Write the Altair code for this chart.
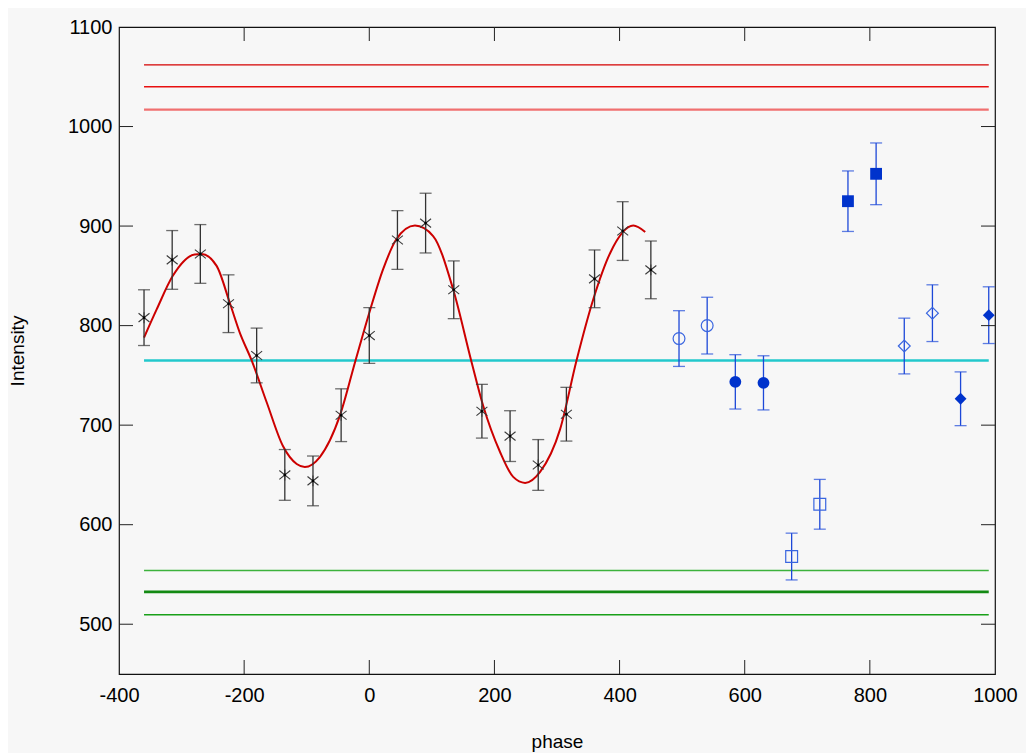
import altair as alt
import pandas as pd

# ---------------- data ----------------
phase_black = [-360, -315, -270, -225, -180, -135, -90, -45, 0, 45, 90, 135,
               180, 225, 270, 315, 360, 405, 450]
intensity_black = [808, 866, 872, 822, 770, 650, 644, 710, 790, 886, 903, 836,
                   714, 689, 660, 711, 847, 895, 856]
error_black = [28, 29.5, 29.5, 29, 27.5, 25.5, 25, 26.5, 28, 29.5, 30, 29,
               27, 25.5, 25.5, 27, 29, 29.5, 29]

phase_blue = [495, 540, 585, 630, 675, 720, 765, 810, 855, 900, 945, 990]
intensity_blue = [787, 800, 743.5, 742.5, 568, 620.5, 925, 952.5, 779.5, 812.5, 726.5, 810.5]
error_blue = [28, 28.5, 27.3, 27.2, 23.5, 25, 30.4, 31, 28, 28.5, 27, 28.5]
marker_blue = ["circle", "circle", "circle", "circle", "square", "square",
               "square", "square", "diamond", "diamond", "diamond", "diamond"]
filled_blue = [False, False, True, True, False, False, True, True, False, False, True, True]

fit_phase = [-360, -340, -314, -279, -268, -244, -223, -207, -188, -164, -138, -116,
             -103, -79, -47, -22, 1, 22, 43, 73, 102, 134, 163, 182, 209, 230, 249,
             273, 305, 331, 358, 385, 422, 441]
fit_intensity = [788, 816, 850, 871.5, 872, 860, 823, 793, 765, 723, 679, 661,
                 658, 668, 709.5, 765, 815, 856.5, 886.5, 900.5, 890, 836.5, 764.5,
                 719.5, 673, 648, 642, 653, 696, 764.5, 826.5, 873, 900.5, 894]

level_values = [1062, 1040, 1017, 765, 554, 532.5, 509.5]
level_start = -360
level_end = 990

x_ticks = [-400, -200, 0, 200, 400, 600, 800, 1000]
y_ticks = [500, 600, 700, 800, 900, 1000, 1100]
x_inner_ticks = [-200, 0, 200, 400, 600, 800]
y_inner_ticks = [500, 600, 700, 800, 900, 1000]

# ---------------- styles ----------------
level_colors = ["#d40000", "#e81010", "#f07070", "#22c8cc", "#3cb23c", "#138a13", "#19a019"]
level_widths = [1.2, 1.5, 2.2, 2.5, 1.5, 2.6, 1.5]

W, H = 876, 647
FONT = "Liberation Sans"

xscale = alt.Scale(domain=[-400, 1000], nice=False, zero=False)
yscale = alt.Scale(domain=[450, 1100], nice=False, zero=False)

xaxis = alt.Axis(values=x_ticks, ticks=False, domain=False, grid=False,
                 labelExpr="datum.value + ''",
                 labelFont=FONT, labelFontSize=20, labelColor="#000",
                 labelPadding=11, labelFlush=False, labelOverlap=False,
                 title="phase", titleFont=FONT, titleFontSize=19,
                 titleFontWeight="normal", titleColor="#000",
                 titleY=73, titleBaseline="alphabetic")
yaxis = alt.Axis(values=y_ticks, ticks=False, domain=False, grid=False,
                 labelExpr="datum.value + ''",
                 labelFont=FONT, labelFontSize=20, labelColor="#000",
                 labelPadding=7, labelFlush=False, labelOverlap=False,
                 title="Intensity", titleFont=FONT, titleFontSize=19,
                 titleFontWeight="normal", titleColor="#000",
                 titleX=-102, titleBaseline="middle", titleAngle=-90)

black = pd.DataFrame({"phase": phase_black, "val": intensity_black, "err": error_black})
black["lo"] = black["val"] - black["err"]
black["hi"] = black["val"] + black["err"]

blue = pd.DataFrame({"phase": phase_blue, "val": intensity_blue, "err": error_blue,
                     "marker": marker_blue, "filled": filled_blue})
blue["lo"] = blue["val"] - blue["err"]
blue["hi"] = blue["val"] + blue["err"]

fit = pd.DataFrame({"phase": fit_phase, "val": fit_intensity})

levels = pd.DataFrame({"level": level_values, "color": level_colors, "w": level_widths,
                       "x0": level_start, "x1": level_end})


def X(f):
    return alt.X(f, type="quantitative", scale=xscale, axis=xaxis)


def Y(f):
    return alt.Y(f, type="quantitative", scale=yscale, axis=yaxis)


level_layer = alt.Chart(levels).mark_rule().encode(
    x=X("x0"), x2="x1:Q", y=Y("level"),
    color=alt.Color("color:N", scale=None),
    strokeWidth=alt.StrokeWidth("w:Q", scale=None),
)

fit_layer = alt.Chart(fit).mark_line(color="#cc0000", strokeWidth=2, interpolate="monotone").encode(
    x=X("phase"), y=Y("val"))

black_bar = alt.Chart(black).mark_rule(color="#333333", strokeWidth=1.3).encode(
    x=X("phase"), y=Y("lo"), y2="hi:Q")
black_cap_lo = alt.Chart(black).mark_tick(color="#333333", orient="horizontal", size=12, thickness=1.3).encode(
    x=X("phase"), y=Y("lo"))
black_cap_hi = alt.Chart(black).mark_tick(color="#333333", orient="horizontal", size=12, thickness=1.3).encode(
    x=X("phase"), y=Y("hi"))
asterisk = alt.Chart(black).mark_point(
    shape="M-1,-0.8L1,0.8M-1,0.8L1,-0.8M0,-1L0,1",
    filled=False, color="#3a3a3a", strokeWidth=1.1, size=120, opacity=1).encode(
    x=X("phase"), y=Y("val"))
dot = alt.Chart(black).mark_point(shape="circle", filled=True, color="#000", size=7, opacity=1).encode(
    x=X("phase"), y=Y("val"))

BLUE_BAR = "#1d48d8"
blue_bar = alt.Chart(blue).mark_rule(color=BLUE_BAR, strokeWidth=1.3).encode(
    x=X("phase"), y=Y("lo"), y2="hi:Q")
blue_cap_lo = alt.Chart(blue).mark_tick(color=BLUE_BAR, orient="horizontal", size=12, thickness=1.3).encode(
    x=X("phase"), y=Y("lo"))
blue_cap_hi = alt.Chart(blue).mark_tick(color=BLUE_BAR, orient="horizontal", size=12, thickness=1.3).encode(
    x=X("phase"), y=Y("hi"))
blue_filled = alt.Chart(blue).transform_filter("datum.filled").mark_point(
    filled=True, color="#0033cc", size=140, opacity=1).encode(
    x=X("phase"), y=Y("val"), shape=alt.Shape("marker:N", scale=None))
blue_open = alt.Chart(blue).transform_filter("!datum.filled").mark_point(
    filled=False, color="#3a66e0", strokeWidth=1.2, size=140, opacity=1).encode(
    x=X("phase"), y=Y("val"), shape=alt.Shape("marker:N", scale=None))

# inward ticks on the frame (positions through the scales)
xt = pd.DataFrame({"v": x_inner_ticks})
yt = pd.DataFrame({"v": y_inner_ticks})
TICK = "#222222"
tick_bottom = alt.Chart(xt).mark_rule(color=TICK, strokeWidth=1).encode(
    x=X("v"), y=alt.value(H), y2=alt.value(H - 14))
tick_top = alt.Chart(xt).mark_rule(color=TICK, strokeWidth=1).encode(
    x=X("v"), y=alt.value(0), y2=alt.value(14))
tick_left = alt.Chart(yt).mark_rule(color=TICK, strokeWidth=1).encode(
    y=Y("v"), x=alt.value(0), x2=alt.value(14))
tick_right = alt.Chart(yt).mark_rule(color=TICK, strokeWidth=1).encode(
    y=Y("v"), x=alt.value(W), x2=alt.value(W - 14))

chart = alt.layer(
    level_layer, fit_layer,
    black_bar, black_cap_lo, black_cap_hi, asterisk, dot,
    blue_bar, blue_cap_lo, blue_cap_hi, blue_filled, blue_open,
    tick_bottom, tick_top, tick_left, tick_right,
).properties(
    width=W, height=H,
    autosize=alt.AutoSizeParams(type="none"),
    padding={"left": 111, "top": 19, "right": 31, "bottom": 79},
    background="#f7f7f7",
).configure_view(
    stroke="#111111", strokeWidth=1.2, fill=None
)

chart.save("out.html", embed_options={"renderer": "svg", "actions": False})
